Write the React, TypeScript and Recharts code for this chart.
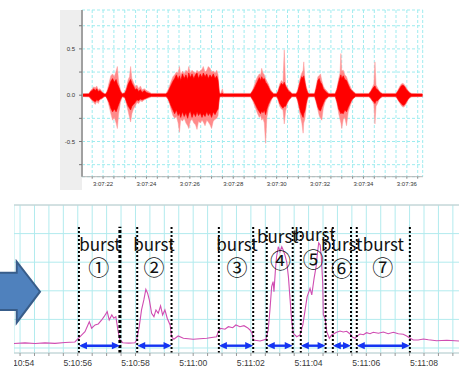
import React from 'react';
import {
  ComposedChart,
  Area,
  Line,
  XAxis,
  YAxis,
  CartesianGrid,
  ReferenceLine,
  ReferenceDot,
} from 'recharts';

// ─────────────────────────────────────────────
// Top: audio waveform envelope (seconds after 3:07:00)
// ─────────────────────────────────────────────

const waveTime = [
  21.03,
  21.35, 21.43, 21.5, 21.57, 21.64, 21.71, 21.78, 21.86, 21.95, 22.05,
  22.13, 22.2, 22.28, 22.36, 22.44, 22.52, 22.6, 22.66, 22.72, 22.8, 22.88,
  23.0, 23.08, 23.16, 23.22, 23.27, 23.33, 23.4, 23.48, 23.56, 23.64, 23.72, 23.8, 23.9, 24.0, 24.1, 24.22,
  24.9, 24.98, 25.06, 25.14, 25.22, 25.3, 25.38, 25.46, 25.52, 25.58,
  25.66, 25.74, 25.82, 25.9, 25.95, 26.02, 26.1, 26.18, 26.26, 26.33,
  26.4, 26.48, 26.56, 26.62, 26.7, 26.78, 26.85, 26.93, 27.0, 27.08,
  27.16, 27.24, 27.3, 27.36, 27.42, 27.5, 27.55,
  28.8, 28.88, 28.96, 29.04, 29.12, 29.2, 29.26, 29.31, 29.37, 29.43, 29.49, 29.55, 29.62, 29.7, 29.78, 29.86,
  30.0, 30.07, 30.14, 30.22, 30.29, 30.35, 30.41, 30.48, 30.56, 30.64, 30.7,
  30.9, 30.97, 31.04, 31.1, 31.16, 31.22, 31.25, 31.3, 31.36, 31.42, 31.48,
  31.75, 31.82, 31.9, 31.96, 32.02, 32.08, 32.15, 32.22, 32.3, 32.4,
  32.7, 32.78, 32.86, 32.92, 32.96, 33.0, 33.07, 33.14, 33.22, 33.3, 33.38, 33.46, 33.55, 33.64,
  34.25, 34.34, 34.42, 34.48, 34.53, 34.58, 34.65, 34.72, 34.8, 34.88,
  35.5, 35.58, 35.66, 35.74, 35.82, 35.9, 35.98, 36.06, 36.14, 36.22,
  36.73,
];

// outer (light) envelope incl. spikes
const waveOuterHi = [
  0.015,
  0.02, 0.05, 0.07, 0.09, 0.08, 0.1, 0.06, 0.07, 0.04, 0.02,
  0.015, 0.06, 0.14, 0.21, 0.23, 0.2, 0.26, 0.31, 0.14, 0.06, 0.02,
  0.03, 0.09, 0.17, 0.2, 0.31, 0.18, 0.14, 0.09, 0.11, 0.07, 0.1, 0.06, 0.07, 0.05, 0.04, 0.02,
  0.02, 0.05, 0.1, 0.15, 0.2, 0.22, 0.25, 0.24, 0.31, 0.22,
  0.26, 0.23, 0.27, 0.25, 0.31, 0.24, 0.27, 0.25, 0.24, 0.27,
  0.25, 0.26, 0.28, 0.31, 0.25, 0.27, 0.31, 0.29, 0.25, 0.26,
  0.24, 0.27, 0.22, 0.03, 0.02, 0.07, 0.02,
  0.02, 0.05, 0.1, 0.16, 0.2, 0.23, 0.22, 0.29, 0.24, 0.22, 0.18, 0.15, 0.12, 0.07, 0.04, 0.02,
  0.02, 0.06, 0.12, 0.16, 0.14, 0.49, 0.12, 0.09, 0.06, 0.04, 0.02,
  0.02, 0.06, 0.14, 0.2, 0.24, 0.27, 0.36, 0.18, 0.1, 0.05, 0.02,
  0.02, 0.1, 0.2, 0.21, 0.23, 0.16, 0.1, 0.07, 0.05, 0.02,
  0.02, 0.08, 0.18, 0.24, 0.45, 0.26, 0.27, 0.22, 0.2, 0.14, 0.1, 0.06, 0.04, 0.02,
  0.02, 0.05, 0.09, 0.12, 0.36, 0.11, 0.08, 0.05, 0.03, 0.02,
  0.02, 0.05, 0.09, 0.12, 0.13, 0.11, 0.08, 0.05, 0.03, 0.02,
  0.015,
];

const waveOuterLo = [
  -0.015,
  -0.02, -0.04, -0.06, -0.08, -0.1, -0.07, -0.09, -0.05, -0.04, -0.02,
  -0.015, -0.05, -0.12, -0.2, -0.27, -0.24, -0.3, -0.36, -0.2, -0.08, -0.02,
  -0.03, -0.1, -0.18, -0.24, -0.29, -0.2, -0.15, -0.12, -0.08, -0.09, -0.06, -0.07, -0.05, -0.04, -0.03, -0.02,
  -0.02, -0.04, -0.09, -0.16, -0.22, -0.25, -0.23, -0.3, -0.4, -0.26,
  -0.28, -0.25, -0.3, -0.33, -0.36, -0.28, -0.26, -0.3, -0.32, -0.37,
  -0.28, -0.3, -0.27, -0.29, -0.33, -0.27, -0.29, -0.32, -0.36, -0.28,
  -0.26, -0.25, -0.22, -0.03, -0.02, -0.02, -0.02,
  -0.02, -0.05, -0.1, -0.15, -0.2, -0.24, -0.22, -0.27, -0.25, -0.3, -0.52, -0.24, -0.14, -0.09, -0.04, -0.02,
  -0.02, -0.06, -0.12, -0.15, -0.16, -0.31, -0.18, -0.1, -0.06, -0.03, -0.02,
  -0.02, -0.07, -0.16, -0.24, -0.3, -0.41, -0.3, -0.26, -0.14, -0.05, -0.02,
  -0.02, -0.08, -0.16, -0.22, -0.25, -0.27, -0.14, -0.08, -0.04, -0.02,
  -0.02, -0.09, -0.2, -0.26, -0.3, -0.36, -0.26, -0.24, -0.33, -0.18, -0.12, -0.07, -0.03, -0.02,
  -0.02, -0.04, -0.07, -0.1, -0.31, -0.12, -0.09, -0.05, -0.03, -0.02,
  -0.02, -0.05, -0.08, -0.11, -0.13, -0.12, -0.09, -0.05, -0.03, -0.02,
  -0.015,
];

// dense (saturated) core of the signal
const waveCoreHi = [
  0.012,
  0.012, 0.04, 0.05, 0.07, 0.05, 0.07, 0.04, 0.05, 0.03, 0.012,
  0.012, 0.04, 0.09, 0.15, 0.18, 0.14, 0.17, 0.12, 0.09, 0.04, 0.012,
  0.02, 0.06, 0.12, 0.15, 0.17, 0.13, 0.1, 0.06, 0.07, 0.04, 0.06, 0.03, 0.05, 0.03, 0.02, 0.012,
  0.012, 0.03, 0.07, 0.11, 0.15, 0.18, 0.22, 0.17, 0.21, 0.16,
  0.23, 0.18, 0.22, 0.17, 0.24, 0.19, 0.23, 0.18, 0.22, 0.24,
  0.18, 0.23, 0.19, 0.24, 0.2, 0.23, 0.18, 0.22, 0.19, 0.23,
  0.18, 0.21, 0.16, 0.02, 0.012, 0.02, 0.012,
  0.012, 0.04, 0.07, 0.11, 0.15, 0.19, 0.16, 0.2, 0.17, 0.18, 0.14, 0.12, 0.09, 0.05, 0.03, 0.012,
  0.012, 0.04, 0.09, 0.13, 0.11, 0.14, 0.1, 0.07, 0.04, 0.03, 0.012,
  0.012, 0.04, 0.1, 0.16, 0.2, 0.18, 0.21, 0.14, 0.07, 0.03, 0.012,
  0.012, 0.07, 0.16, 0.18, 0.14, 0.12, 0.07, 0.05, 0.03, 0.012,
  0.012, 0.06, 0.14, 0.19, 0.22, 0.18, 0.21, 0.17, 0.16, 0.11, 0.07, 0.05, 0.03, 0.012,
  0.012, 0.04, 0.07, 0.09, 0.1, 0.07, 0.06, 0.04, 0.02, 0.012,
  0.012, 0.04, 0.07, 0.1, 0.11, 0.09, 0.06, 0.04, 0.02, 0.012,
  0.012,
];

const waveCoreLo = [
  -0.012,
  -0.012, -0.03, -0.05, -0.06, -0.07, -0.05, -0.06, -0.04, -0.03, -0.012,
  -0.012, -0.04, -0.08, -0.14, -0.18, -0.15, -0.18, -0.14, -0.1, -0.05, -0.012,
  -0.02, -0.07, -0.12, -0.14, -0.16, -0.12, -0.1, -0.08, -0.05, -0.06, -0.04, -0.05, -0.04, -0.03, -0.02, -0.012,
  -0.012, -0.03, -0.07, -0.12, -0.16, -0.2, -0.16, -0.22, -0.19, -0.24,
  -0.18, -0.23, -0.19, -0.25, -0.2, -0.17, -0.24, -0.19, -0.23, -0.18,
  -0.22, -0.19, -0.24, -0.2, -0.23, -0.18, -0.22, -0.19, -0.24, -0.18,
  -0.21, -0.17, -0.15, -0.02, -0.012, -0.012, -0.012,
  -0.012, -0.04, -0.07, -0.11, -0.15, -0.18, -0.2, -0.17, -0.19, -0.16, -0.21, -0.15, -0.1, -0.06, -0.03, -0.012,
  -0.012, -0.04, -0.09, -0.12, -0.14, -0.12, -0.12, -0.08, -0.05, -0.03, -0.012,
  -0.012, -0.05, -0.12, -0.18, -0.21, -0.24, -0.2, -0.17, -0.09, -0.03, -0.012,
  -0.012, -0.06, -0.13, -0.16, -0.17, -0.13, -0.09, -0.05, -0.03, -0.012,
  -0.012, -0.07, -0.15, -0.18, -0.2, -0.19, -0.2, -0.16, -0.18, -0.13, -0.09, -0.05, -0.03, -0.012,
  -0.012, -0.03, -0.06, -0.07, -0.09, -0.06, -0.06, -0.04, -0.02, -0.012,
  -0.012, -0.04, -0.07, -0.09, -0.11, -0.1, -0.07, -0.04, -0.02, -0.012,
  -0.012,
];

const topLabelSecs = [22, 24, 26, 28, 30, 32, 34, 36];
const topLabels = ['3:07:22', '3:07:24', '3:07:26', '3:07:28', '3:07:30', '3:07:32', '3:07:34', '3:07:36'];
const topYTicks = [-0.75, -0.5, -0.25, 0, 0.25, 0.5, 0.75];
const topYLabels = ['', '-0.5', '', '0.0', '', '0.5', ''];

// ─────────────────────────────────────────────
// Bottom: traffic rate (seconds after 5:10:00)
// ─────────────────────────────────────────────

const rateTime = [
  53.79, 54.17, 54.52, 54.86, 55.21, 55.56, 55.9,
  56.08, 56.25, 56.4, 56.48, 56.6, 56.71, 56.83, 56.91, 57.02, 57.09, 57.18, 57.25, 57.32, 57.4, 57.46,
  57.56, 57.77, 57.98,
  58.04, 58.13, 58.21, 58.29, 58.36, 58.42, 58.48, 58.56, 58.64, 58.71, 58.79, 58.87, 58.94, 59.02, 59.1, 59.2, 59.25,
  59.33, 59.48, 59.66, 60.0, 60.47, 60.81,
  60.87, 60.95, 61.1, 61.22, 61.37, 61.48, 61.62, 61.76, 61.88, 61.97, 62.04, 62.08,
  62.32, 62.52,
  62.6, 62.66, 62.72, 62.77, 62.8, 62.85, 62.89, 62.95, 63.01, 63.07, 63.12, 63.18, 63.24, 63.3, 63.36, 63.41, 63.47,
  63.59, 63.7,
  63.8, 63.88, 63.95, 64.05, 64.11, 64.19, 64.26, 64.3, 64.35, 64.4, 64.44, 64.49, 64.51, 64.57, 64.63,
  64.72, 64.8,
  64.97, 65.09, 65.2, 65.32, 65.44, 65.53, 65.61, 65.69,
  65.78, 65.9, 66.01, 66.13, 66.24, 66.42, 66.59, 66.76, 66.94, 67.11, 67.28, 67.4, 67.49,
  67.63, 67.8, 67.98, 68.15, 68.44, 68.79, 69.21, 69.49,
];

const rateValue = [
  0.31, 0.36, 0.31, 0.36, 0.32, 0.38, 0.42,
  0.79, 1.14, 1.84, 1.38, 1.61, 1.68, 1.96, 2.19, 2.54, 1.96, 2.31, 2.08, 2.19, 1.14, 0.56,
  0.37, 0.34, 0.37,
  0.56, 1.49, 2.66, 3.36, 4.1, 3.83, 3.36, 2.43, 2.19, 2.66, 2.43, 2.94, 2.31, 2.66, 2.08, 1.61, 0.79,
  0.61, 0.84, 0.68, 0.61, 0.68, 0.79,
  1.14, 1.38, 1.31, 1.49, 1.42, 1.61, 1.49, 1.56, 1.42, 1.26, 1.03, 0.56,
  0.49, 0.61,
  1.26, 2.66, 4.29, 4.64, 3.94, 5.45, 6.38, 7.08, 6.73, 7.08, 6.85, 6.5, 6.03, 4.99, 3.36, 1.96, 1.03,
  0.79, 0.91,
  1.61, 2.66, 3.59, 4.17, 3.71, 4.87, 5.69, 6.5, 7.36, 7.2, 6.38, 4.52, 2.31, 2.08, 1.14,
  0.68, 0.91,
  1.1, 1.19, 1.12, 1.17, 0.98, 0.75, 0.68, 0.84,
  0.98, 0.93, 1.07, 1.0, 1.1, 1.03, 1.12, 1.0, 1.1, 1.0, 0.96, 0.84, 0.72,
  0.56, 0.56, 0.63, 0.58, 0.51, 0.54, 0.49, 0.52,
];

// burst boundaries (dotted lines), consecutive pairs = bursts
const burstEdges = [56.04, 57.46, 58.06, 59.25, 60.89, 62.08, 62.55, 63.45, 63.73, 64.59, 64.84, 65.47, 65.67, 67.51];
const burstNumbers = ['①', '②', '③', '④', '⑤', '⑥', '⑦'];
const burstWordT = [56.77, 58.64, 61.52, 62.93, 64.22, 65.15, 66.59];
const burstWordV = [7.34, 7.34, 7.34, 7.85, 8.02, 7.34, 7.34];
const burstNumT = [56.73, 58.64, 61.52, 63.03, 64.16, 65.15, 66.57];
const burstNumV = [5.73, 5.73, 5.73, 6.2, 6.31, 5.64, 5.73];

const bottomLabelSecs = [54, 56, 58, 60, 62, 64, 66, 68];
const bottomLabels = ['5:10:54', '5:10:56', '5:10:58', '5:11:00', '5:11:02', '5:11:04', '5:11:06', '5:11:08'];

// ─────────────────────────────────────────────

const waveData = waveTime.map((t, i) => ({
  t,
  outer: [waveOuterLo[i] ?? 0, waveOuterHi[i] ?? 0],
  core: [waveCoreLo[i] ?? 0, waveCoreHi[i] ?? 0],
}));

const rateData = rateTime.map((t, i) => ({ t, v: rateValue[i] }));

const topGridTicks = Array.from({ length: 31 }, (_, i) => 21.5 + i * 0.5);
const bottomGridTicks = Array.from({ length: 31 }, (_, i) => 54 + i * 0.5);

const labelFor = (secs: number[], labels: string[]) => (v: number) => {
  const idx = secs.findIndex((s) => Math.abs(s - v) < 1e-6);
  return idx >= 0 ? labels[idx] : '';
};

const JP_FONT = "'Noto Sans CJK JP', 'Noto Sans', sans-serif";
const SMALL_FONT = "'Liberation Sans', Arial, sans-serif";
const ARROW_BLUE = '#1434f2';

function DoubleArrow(props: any) {
  const { x1, x2, y1 } = props;
  const head = 8;
  const half = 3.6;
  return (
    <g>
      <line x1={x1 + 3} y1={y1} x2={x2 - 3} y2={y1} stroke={ARROW_BLUE} strokeWidth={2.4} />
      <polygon
        points={`${x1},${y1} ${x1 + head},${y1 - half} ${x1 + head},${y1 + half}`}
        fill={ARROW_BLUE}
      />
      <polygon
        points={`${x2},${y1} ${x2 - head},${y1 - half} ${x2 - head},${y1 + half}`}
        fill={ARROW_BLUE}
      />
    </g>
  );
}

function TopWaveform() {
  return (
    <ComposedChart
      width={370}
      height={190}
      data={waveData}
      margin={{ top: 10, right: 7.3, bottom: 0, left: 0 }}
    >
      <CartesianGrid stroke="#9fecef" strokeDasharray="3 2" />
      <XAxis
        type="number"
        dataKey="t"
        domain={[21.03, 36.73]}
        ticks={topGridTicks}
        interval={0}
        allowDataOverflow
        height={13.3}
        tickSize={2}
        tickMargin={3}
        axisLine={{ stroke: '#b4b4b4' }}
        tickLine={{ stroke: '#888' }}
        tick={{ fontSize: 6, fill: '#333', fontFamily: SMALL_FONT }}
        tickFormatter={labelFor(topLabelSecs, topLabels)}
      />
      <YAxis
        type="number"
        domain={[-0.88, 0.92]}
        ticks={topYTicks}
        interval={0}
        allowDataOverflow
        width={22}
        tickSize={3}
        tickMargin={4}
        axisLine={{ stroke: '#a0a0a0', strokeWidth: 2 }}
        tickLine={{ stroke: '#777' }}
        tick={{ fontSize: 6, fill: '#333', fontFamily: SMALL_FONT }}
        tickFormatter={(v: number) => topYLabels[topYTicks.indexOf(v)] ?? ''}
      />
      <Area
        type="linear"
        dataKey="outer"
        stroke="#ff9a9a"
        strokeWidth={0.5}
        fill="#ff8a8a"
        fillOpacity={1}
        isAnimationActive={false}
      />
      <Area
        type="linear"
        dataKey="core"
        stroke="#ff0000"
        strokeWidth={0.6}
        fill="#ff0000"
        fillOpacity={1}
        isAnimationActive={false}
      />
    </ComposedChart>
  );
}

function BottomBursts() {
  const pairs = burstNumbers.map((_, i) => [burstEdges[i * 2], burstEdges[i * 2 + 1]]);
  return (
    <ComposedChart
      width={460}
      height={177}
      data={rateData}
      margin={{ top: 15, right: 7, bottom: 0, left: 0 }}
    >
      <CartesianGrid stroke="#b2ebee" />
      <XAxis
        type="number"
        dataKey="t"
        domain={[53.79, 69.49]}
        ticks={bottomGridTicks}
        interval={0}
        allowDataOverflow
        height={14}
        tickSize={3}
        tickMargin={4}
        axisLine={{ stroke: '#cfcfcf' }}
        tickLine={{ stroke: '#999' }}
        tick={{ fontSize: 8.6, fill: '#3a3a3a', fontFamily: SMALL_FONT }}
        tickFormatter={labelFor(bottomLabelSecs, bottomLabels)}
      />
      <YAxis hide type="number" domain={[-0.35, 10]} ticks={[0, 1, 2, 3, 4, 5, 6, 7, 8, 9, 10]} allowDataOverflow />
      <ReferenceLine y={10} stroke="#cccccc" />
      <Line
        type="linear"
        dataKey="v"
        stroke="#d04db2"
        strokeWidth={1.1}
        dot={false}
        isAnimationActive={false}
      />
      {burstEdges.map((t, i) => (
        <ReferenceLine
          key={`edge-${i}`}
          segment={[
            { x: t, y: -0.35 },
            { x: t, y: 8.48 },
          ]}
          stroke="#000"
          strokeWidth={i === 1 ? 3 : 2}
          strokeDasharray={i === 1 ? '3 2' : '2 2'}
        />
      ))}
      {pairs.map(([a, b], i) => (
        <ReferenceLine
          key={`arrow-${i}`}
          segment={[
            { x: a, y: 0.16 },
            { x: b, y: 0.16 },
          ]}
          shape={(p: any) => <DoubleArrow {...p} />}
        />
      ))}
      {burstNumbers.map((n, i) => (
        <ReferenceDot
          key={`word-${i}`}
          x={burstWordT[i]}
          y={burstWordV[i]}
          r={1}
          shape={(p: any) => (
            <text
              x={p.cx}
              y={p.cy}
              textAnchor="middle"
              dominantBaseline="central"
              fontSize={17}
              fontFamily={JP_FONT}
              fill="#111"
            >
              burst
            </text>
          )}
        />
      ))}
      {burstNumbers.map((n, i) => (
        <ReferenceDot
          key={`num-${i}`}
          x={burstNumT[i]}
          y={burstNumV[i]}
          r={1}
          shape={(p: any) => (
            <text
              x={p.cx}
              y={p.cy}
              textAnchor="middle"
              dominantBaseline="central"
              fontSize={21}
              fontFamily={JP_FONT}
              fill="#111"
            >
              {n}
            </text>
          )}
        />
      ))}
    </ComposedChart>
  );
}

export default function App() {
  return (
    <div
      style={{
        position: 'absolute',
        left: 0,
        top: 0,
        width: 459,
        height: 367,
        overflow: 'hidden',
        background: '#fff',
      }}
    >
      {/* gray frame left of the waveform axis */}
      <div style={{ position: 'absolute', left: 60, top: 10, width: 22, height: 180, background: '#eeeeee' }} />
      <div style={{ position: 'absolute', left: 60, top: 0 }}>
        <TopWaveform />
      </div>

      <div style={{ position: 'absolute', left: 14, top: 190, width: 445, height: 177, overflow: 'hidden' }}>
        <BottomBursts />
      </div>

      {/* block arrow between the two views */}
      <svg style={{ position: 'absolute', left: 0, top: 255 }} width={46} height={75}>
        <polygon
          points="-4,17.7 16.7,17.7 16.7,6.7 40,36.7 16.7,67.7 16.7,55 -4,55"
          fill="#4f81bd"
          stroke="#385d8a"
          strokeWidth={2}
        />
      </svg>
    </div>
  );
}
